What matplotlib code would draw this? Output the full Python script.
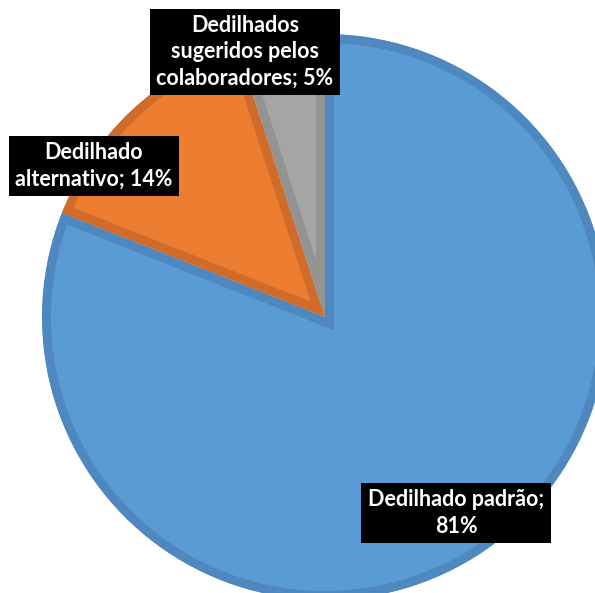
import matplotlib
matplotlib.use("Agg")
import matplotlib.pyplot as plt

# Fingering sources and their share (%)
categories = ["Dedilhado padrão", "Dedilhado alternativo", "Dedilhados sugeridos pelos colaboradores"]
shares = [81, 14, 5]
fill_colors = ["#5b9bd5", "#ed7d31", "#a5a5a5"]
edge_colors = ["#4f88bf", "#d06c2b", "#939393"]

# label text broken into lines as drawn
label_lines = [
    "Dedilhado padrão;\n{v}%",
    "Dedilhado\nalternativo; {v}%",
    "Dedilhados\nsugeridos pelos\ncolaboradores; {v}%",
]

W, H = 595, 593
fig = plt.figure(figsize=(W / 100, H / 100), dpi=100)
ax = fig.add_axes([0, 0, 1, 1])

cx, cy, r = 325, H - 317, 283
wedges, _ = ax.pie(shares, colors=fill_colors, startangle=90, counterclock=False,
                   center=(cx, cy), radius=r, frame=True)
ax.set_aspect("equal", adjustable="datalim")
ax.set_xlim(0, W)
ax.set_ylim(0, H)
ax.set_axis_off()

# inner border: wide stroke clipped to the wedge itself
for w, ec in zip(wedges, edge_colors):
    w.set_edgecolor(ec)
    w.set_linewidth(18 * 72 / 100)
    w.set_joinstyle("miter")
    w.set_clip_on(True)
    w.set_clip_path(w)

# label positions (pixel coords from top-left)
label_pos = [(456, 513), (94, 166), (245, 52)]
font = dict(family=["Lato", "DejaVu Sans"], weight="bold", size=15.5, color="white")
for tmpl, v, (x, y) in zip(label_lines, shares, label_pos):
    ax.text(x, H - y, tmpl.format(v=v), ha="center", va="center",
            multialignment="center", linespacing=1.3,
            bbox=dict(boxstyle="square,pad=0.3", fc="black", ec="none"), **font)

fig.savefig("out.png", dpi=100)
